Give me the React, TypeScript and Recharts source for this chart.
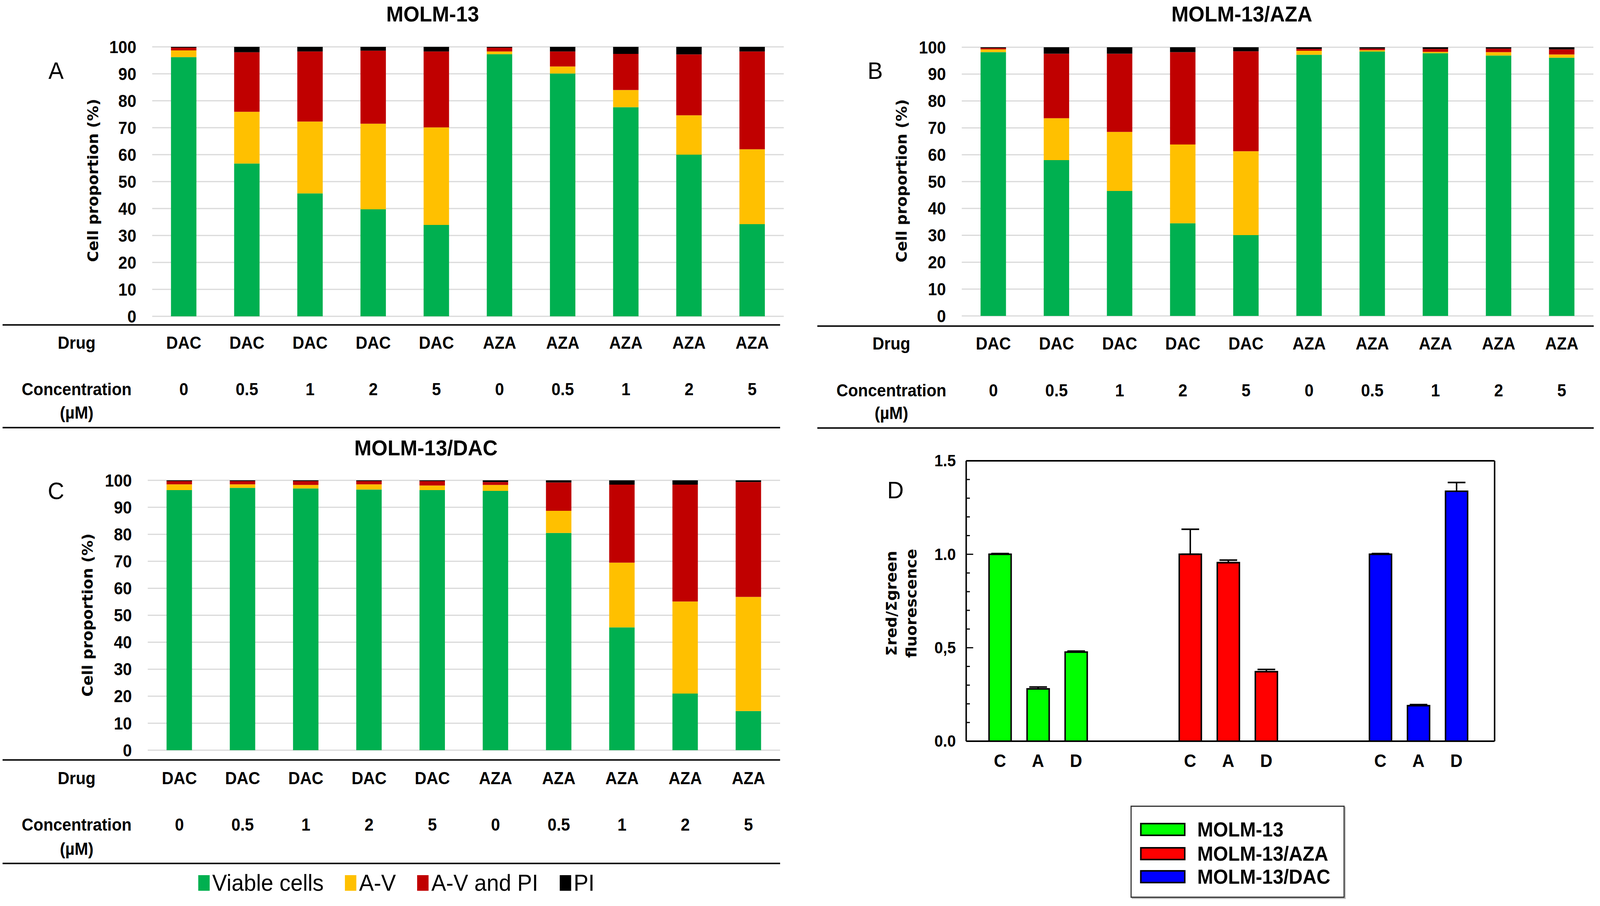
import React from 'react';
import { BarChart, Bar, XAxis, YAxis, CartesianGrid, Legend, ErrorBar, Cell } from 'recharts';

// ---------- data ----------
const drugs = ['DAC', 'DAC', 'DAC', 'DAC', 'DAC', 'AZA', 'AZA', 'AZA', 'AZA', 'AZA'];
const concentrations = ['0', '0.5', '1', '2', '5', '0', '0.5', '1', '2', '5'];
const percentTicks = [0, 10, 20, 30, 40, 50, 60, 70, 80, 90, 100];

const seriesNames = ['Viable cells', 'A-V', 'A-V and PI', 'PI'];
const seriesColors = ['#00B050', '#FFC000', '#C00000', '#000000'];

// Panel A: MOLM-13
const molm13Viable = [96.2, 56.7, 45.6, 39.7, 33.9, 97.3, 90.1, 77.6, 60.0, 34.2];
const molm13AV = [2.5, 19.2, 26.7, 31.8, 36.2, 1.0, 2.6, 6.4, 14.6, 27.8];
const molm13AVPI = [1.0, 22.1, 26.0, 27.1, 28.2, 1.4, 5.6, 13.4, 22.6, 36.3];
const molm13PI = [0.3, 2.0, 1.7, 1.4, 1.7, 0.3, 1.7, 2.6, 2.8, 1.7];

// Panel B: MOLM-13/AZA
const azaViable = [98.2, 58.0, 46.5, 34.5, 30.1, 97.2, 98.4, 97.8, 96.9, 96.1];
const azaAV = [1.0, 15.6, 22.0, 29.3, 31.2, 1.5, 0.5, 0.5, 1.3, 1.2];
const azaAVPI = [0.5, 24.0, 29.1, 34.4, 37.2, 0.7, 0.6, 1.1, 1.3, 1.9];
const azaPI = [0.3, 2.4, 2.4, 1.8, 1.5, 0.6, 0.5, 0.6, 0.5, 0.8];

// Panel C: MOLM-13/DAC
const dacViable = [96.4, 97.2, 97.0, 96.6, 96.4, 96.1, 80.5, 45.5, 21.0, 14.5];
const dacAV = [2.1, 1.3, 1.3, 1.9, 1.7, 2.2, 8.2, 24.0, 34.1, 42.3];
const dacAVPI = [1.2, 1.2, 1.4, 1.2, 1.6, 1.1, 10.5, 28.9, 43.3, 42.6];
const dacPI = [0.3, 0.3, 0.3, 0.3, 0.3, 0.6, 0.8, 1.6, 1.6, 0.6];

// Panel D: fluorescence ratio
const fluoLabels = ['C', 'A', 'D', '', '', 'C', 'A', 'D', '', '', 'C', 'A', 'D'];
const fluoGroupIndex = [0, 0, 0, -1, -1, 1, 1, 1, -1, -1, 2, 2, 2];
const fluoValues = [1.0, 0.28, 0.477, null, null, 1.0, 0.955, 0.372, null, null, 1.0, 0.19, 1.337];
const fluoErrors = [0.004, 0.01, 0.005, null, null, 0.134, 0.014, 0.012, null, null, 0.004, 0.006, 0.047];
const fluoGroupNames = ['MOLM-13', 'MOLM-13/AZA', 'MOLM-13/DAC'];
const fluoGroupColors = ['#00FF00', '#FF0000', '#0000FF'];
const fluoTicks = [0, 0.1, 0.2, 0.3, 0.4, 0.5, 0.6, 0.7, 0.8, 0.9, 1.0, 1.1, 1.2, 1.3, 1.4, 1.5];
const fluoMajorTicks = [0, 0.5, 1.0, 1.5];
const fluoMajorLabels = ['0.0', '0,5', '1.0', '1.5'];

// ---------- styles ----------
const PAGE_W = 4342;
const PAGE_H = 2320;
const SANS = "'Liberation Sans', Arial, sans-serif";
const WIDE = "'DejaVu Sans', Verdana, sans-serif";

const TableTick = (props: any) => {
  const { x, index, drugY, concY } = props;
  return (
    <g>
      <text x={x} y={drugY} textAnchor="middle" dominantBaseline="central" fontFamily={SANS} fontWeight={700} fontSize={44} fill="#000">
        {drugs[index]}
      </text>
      <text x={x} y={concY} textAnchor="middle" dominantBaseline="central" fontFamily={SANS} fontWeight={700} fontSize={44} fill="#000">
        {concentrations[index]}
      </text>
    </g>
  );
};

const StackLegend = (props: any) => {
  const raw = props.payload && props.payload.length ? props.payload : seriesNames.map((n, i) => ({ value: n, color: seriesColors[i] }));
  const payload = [...raw].sort((a: any, b: any) => seriesNames.indexOf(a.value) - seriesNames.indexOf(b.value));
  return (
    <div style={{ display: 'flex', alignItems: 'center', height: '100%', fontFamily: SANS, fontSize: 60, color: '#000' }}>
      {payload.map((p: any, i: number) => (
        <div key={i} style={{ display: 'flex', alignItems: 'center', marginRight: i < payload.length - 1 ? 58 : 0 }}>
          <span style={{ display: 'inline-block', width: 31, height: 40, background: p.color, marginRight: 7 }} />
          <span style={{ lineHeight: 1 }}>{p.value}</span>
        </div>
      ))}
    </div>
  );
};

type PanelProps = {
  left: number; top: number; width: number; height: number;
  plot: { left: number; right: number; top: number; bottom: number };
  viable: number[]; av: number[]; avpi: number[]; pi: number[];
  drugY: number; concY: number;
  legend?: { left: number; top: number; width: number; height: number };
};

function StackedPanel(p: PanelProps) {
  const data = drugs.map((d, i) => ({
    key: `${d} ${concentrations[i]}`,
    viable: p.viable[i],
    av: p.av[i],
    avpi: p.avpi[i],
    pi: p.pi[i],
  }));
  const xh = 200;
  return (
    <div style={{ position: 'absolute', left: p.left, top: p.top, width: p.width, height: p.height }}>
      <BarChart
        width={p.width}
        height={p.height}
        data={data}
        margin={{ top: p.plot.top, right: p.width - p.plot.right, bottom: p.height - p.plot.bottom - xh, left: p.plot.left - 60 }}
      >
        <CartesianGrid horizontal vertical={false} stroke="#D9D9D9" strokeWidth={3} />
        <XAxis
          dataKey="key"
          height={xh}
          axisLine={false}
          tickLine={false}
          interval={0}
          tick={<TableTick drugY={p.drugY} concY={p.concY} />}
        />
        <YAxis
          width={60}
          domain={[0, 100]}
          ticks={percentTicks}
          allowDataOverflow
          interval={0}
          axisLine={false}
          tickLine={false}
          tickSize={0}
          tickMargin={43}
          tick={{ fontSize: 44, fontWeight: 700, fill: '#000', fontFamily: SANS }}
        />
        <Bar dataKey="viable" name={seriesNames[0]} stackId="a" fill={seriesColors[0]} barSize={69} isAnimationActive={false} />
        <Bar dataKey="av" name={seriesNames[1]} stackId="a" fill={seriesColors[1]} barSize={69} isAnimationActive={false} />
        <Bar dataKey="avpi" name={seriesNames[2]} stackId="a" fill={seriesColors[2]} barSize={69} isAnimationActive={false} />
        <Bar dataKey="pi" name={seriesNames[3]} stackId="a" fill={seriesColors[3]} barSize={69} isAnimationActive={false} />
        {p.legend && (
          <Legend
            layout="horizontal"
            verticalAlign="middle"
            align="center"
            itemSorter={null as any}
            wrapperStyle={{ left: p.legend.left, top: p.legend.top, width: p.legend.width, height: p.legend.height }}
            content={<StackLegend />}
          />
        )}
      </BarChart>
    </div>
  );
}

const FluoXTick = (props: any) => {
  const { x, index, labelY } = props;
  const label = fluoLabels[index];
  if (!label) return null;
  return (
    <text x={x} y={labelY} textAnchor="middle" dominantBaseline="central" fontFamily={SANS} fontWeight={700} fontSize={46} fill="#000">
      {label}
    </text>
  );
};

const FluoYTick = (props: any) => {
  const { x, y, payload } = props;
  const v = payload.value;
  const mi = fluoMajorTicks.findIndex((m) => Math.abs(m - v) < 1e-6);
  const major = mi >= 0;
  return (
    <g>
      <line x1={x} x2={x + (major ? 19 : 10)} y1={y} y2={y} stroke="#000" strokeWidth={3} />
      {major && (
        <text x={x - 28} y={y} textAnchor="end" dominantBaseline="central" fontFamily={SANS} fontWeight={700} fontSize={42} fill="#000">
          {fluoMajorLabels[mi]}
        </text>
      )}
    </g>
  );
};

const FluoLegend = () => (
  <div style={{ position: 'relative', width: 581, height: 236, boxSizing: 'border-box', border: '3px solid #333', boxShadow: '3px 3px 0 #bbb', background: '#fff', fontFamily: SANS }}>
    {fluoGroupNames.map((n, i) => (
      <div key={n} style={{ position: 'absolute', left: 23, top: [40, 102, 161][i], height: 36, display: 'flex', alignItems: 'center' }}>
        <span style={{ display: 'inline-block', width: 123, height: 34, boxSizing: 'border-box', background: fluoGroupColors[i], border: '4px solid #000' }} />
        <span style={{ marginLeft: 32, fontSize: 52, fontWeight: 700, color: '#000', lineHeight: 1 }}>{n}</span>
      </div>
    ))}
  </div>
);

// panel D plot box (page coordinates)
const D_LEFT = 2170, D_TOP = 1100, D_W = 2172, D_H = 1220;
const D_PLOT = { left: 2622, right: 4056, top: 1180, bottom: 1898 };

function FluoPanel() {
  const data = fluoLabels.map((l, i) => ({
    key: `${l || 'gap'}${i}`,
    value: fluoValues[i],
    err: fluoErrors[i] == null ? undefined : [0, fluoErrors[i]],
    color: fluoGroupIndex[i] >= 0 ? fluoGroupColors[fluoGroupIndex[i]] : 'none',
  }));
  const xh = 100;
  const pl = D_PLOT.left - D_LEFT, pr = D_PLOT.right - D_LEFT, pt = D_PLOT.top - D_TOP, pb = D_PLOT.bottom - D_TOP;
  return (
    <div style={{ position: 'absolute', left: D_LEFT, top: D_TOP, width: D_W, height: D_H }}>
      <BarChart width={D_W} height={D_H} data={data} margin={{ top: pt, right: D_W - pr, bottom: D_H - pb - xh, left: pl - 80 }}>
        <XAxis
          dataKey="key"
          height={xh}
          padding={{ left: 40, right: 52 }}
          axisLine={{ stroke: '#000', strokeWidth: 4 }}
          tickLine={false}
          interval={0}
          tick={<FluoXTick labelY={848} />}
        />
        <YAxis
          width={80}
          domain={[0, 1.5]}
          ticks={fluoTicks}
          allowDataOverflow
          interval={0}
          axisLine={{ stroke: '#000', strokeWidth: 4 }}
          tickLine={false}
          tickSize={0}
          tickMargin={0}
          tick={<FluoYTick />}
        />
        <Bar dataKey="value" barSize={60} stroke="#000" strokeWidth={4} isAnimationActive={false}>
          {data.map((d, i) => (
            <Cell key={i} fill={d.color} />
          ))}
          <ErrorBar dataKey="err" width={24} stroke="#000" strokeWidth={4} />
        </Bar>
        <Legend
          layout="horizontal"
          verticalAlign="middle"
          align="center"
          wrapperStyle={{ left: 898, top: 963, width: 581, height: 236 }}
          content={<FluoLegend />}
        />
      </BarChart>
    </div>
  );
}

const T = (props: any) => {
  const { x, y, size = 44, weight = 700, family = SANS, anchor = 'middle', rotate, children } = props;
  return (
    <text
      x={x}
      y={y}
      textAnchor={anchor}
      dominantBaseline="central"
      fontFamily={family}
      fontWeight={weight}
      fontSize={size}
      fill="#000"
      transform={rotate ? `rotate(${rotate} ${x} ${y})` : undefined}
    >
      {children}
    </text>
  );
};

function getScale(): [number, number] {
  if (typeof window === 'undefined') return [1, 1];
  const w = window.innerWidth || PAGE_W;
  const h = window.innerHeight || PAGE_H;
  const sx = w / PAGE_W;
  const sy = h / PAGE_H;
  return [sx > 0 && sx < 1 ? sx : 1, sy > 0 && sy < 1 ? sy : 1];
}

export default function App() {
  const [[sx, sy]] = React.useState(getScale);
  return (
    <div style={{ position: 'fixed', left: 0, top: 0, right: 0, bottom: 0, overflow: 'hidden', background: '#fff' }}>
      <div
        style={{
          position: 'absolute', left: 0, top: 0, width: PAGE_W, height: PAGE_H, background: '#fff',
          fontFamily: SANS, transform: `scale(${sx}, ${sy})`, transformOrigin: '0 0',
        }}
      >
        <StackedPanel
          left={0} top={0} width={2140} height={1100}
          plot={{ left: 413, right: 2127, top: 120, bottom: 810 }}
          viable={molm13Viable} av={molm13AV} avpi={molm13AVPI} pi={molm13PI}
          drugY={878} concY={997}
        />
        <StackedPanel
          left={2170} top={0} width={2172} height={1100}
          plot={{ left: 440, right: 2154, top: 121, bottom: 809 }}
          viable={azaViable} av={azaAV} avpi={azaAVPI} pi={azaPI}
          drugY={880} concY={1000}
        />
        <StackedPanel
          left={0} top={1100} width={2140} height={1220}
          plot={{ left: 401, right: 2117, top: 130, bottom: 821 }}
          viable={dacViable} av={dacAV} avpi={dacAVPI} pi={dacPI}
          drugY={893} concY={1012}
          legend={{ left: 538, top: 1128, width: 1160, height: 66 }}
        />
        <FluoPanel />

        <svg width={PAGE_W} height={PAGE_H} style={{ position: 'absolute', left: 0, top: 0, pointerEvents: 'none' }}>
          {/* Panel A */}
          <T x={1174} y={36} size={56}>MOLM-13</T>
          <T x={152} y={180} size={62} weight={400}>A</T>
          <T x={253} y={462} size={39} family={WIDE} rotate={-90}>Cell proportion (%)</T>
          <T x={208} y={878}>Drug</T>
          <T x={208} y={997}>Concentration</T>
          <T x={208} y={1057}>(µM)</T>
          <line x1={7} x2={2117} y1={832} y2={832} stroke="#111" strokeWidth={4} />
          <line x1={7} x2={2117} y1={1095} y2={1095} stroke="#111" strokeWidth={4} />

          {/* Panel B */}
          <T x={3370} y={36} size={56}>MOLM-13/AZA</T>
          <T x={2375} y={180} size={62} weight={400}>B</T>
          <T x={2447} y={463} size={39} family={WIDE} rotate={-90}>Cell proportion (%)</T>
          <T x={2419} y={880}>Drug</T>
          <T x={2419} y={1000}>Concentration</T>
          <T x={2419} y={1058}>(µM)</T>
          <line x1={2218} x2={4325} y1={835} y2={835} stroke="#111" strokeWidth={4} />
          <line x1={2218} x2={4325} y1={1096} y2={1096} stroke="#111" strokeWidth={4} />

          {/* Panel C */}
          <T x={1156} y={1147} size={56}>MOLM-13/DAC</T>
          <T x={152} y={1256} size={62} weight={400}>C</T>
          <T x={238} y={1575} size={39} family={WIDE} rotate={-90}>Cell proportion (%)</T>
          <T x={208} y={1993}>Drug</T>
          <T x={208} y={2112}>Concentration</T>
          <T x={208} y={2174}>(µM)</T>
          <line x1={7} x2={2117} y1={1946} y2={1946} stroke="#111" strokeWidth={4} />
          <line x1={7} x2={2117} y1={2211} y2={2211} stroke="#111" strokeWidth={4} />

          {/* Panel D */}
          <T x={2430} y={1254} size={62} weight={400}>D</T>
          <T x={2420} y={1545} size={39} family={WIDE} rotate={-90}>Σred/Σgreen</T>
          <T x={2474} y={1545} size={39} family={WIDE} rotate={-90}>fluorescence</T>
          <line x1={D_PLOT.left} x2={D_PLOT.right} y1={D_PLOT.top} y2={D_PLOT.top} stroke="#000" strokeWidth={4} />
          <line x1={D_PLOT.right} x2={D_PLOT.right} y1={D_PLOT.top} y2={D_PLOT.bottom} stroke="#000" strokeWidth={4} />
        </svg>
      </div>
    </div>
  );
}
